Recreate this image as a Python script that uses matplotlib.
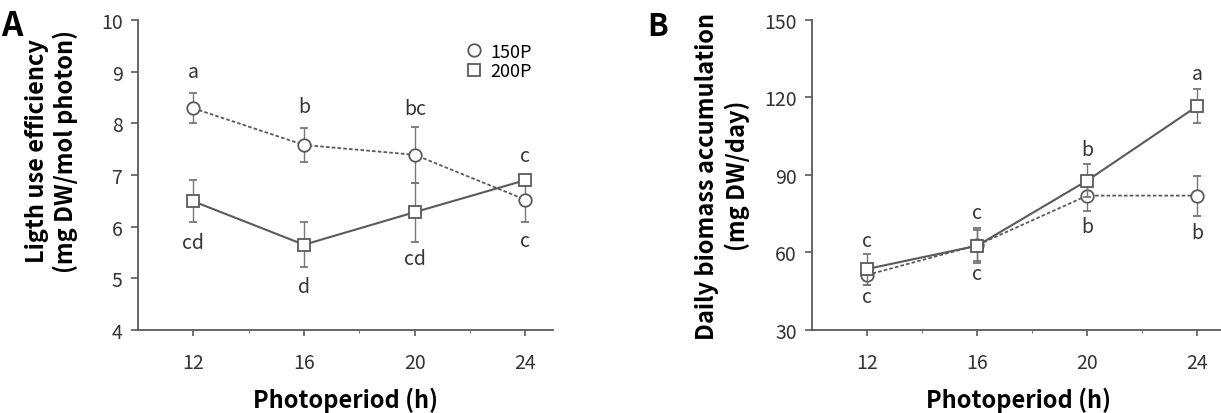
import matplotlib
matplotlib.use("Agg")
import matplotlib.pyplot as plt
from matplotlib.lines import Line2D

plt.rcParams["font.family"] = ["Noto Sans CJK KR", "DejaVu Sans"]

# datos
fotoperiodo = [12, 16, 20, 24]

# panel A: eficiencia de uso de luz
lue_150 = [8.29, 7.58, 7.39, 6.52]
lue_150_err = [0.29, 0.33, 0.54, 0.43]
lue_200 = [6.49, 5.65, 6.28, 6.90]
lue_200_err = [0.41, 0.43, 0.57, 0.10]
letras_a_150 = ["a", "b", "bc", "c"]
letras_a_200 = ["cd", "d", "cd", "c"]
pos_a_150 = [9.0, 8.32, 8.28, 7.37]
pos_a_200 = [5.69, 4.84, 5.38, 5.73]

# panel B: acumulacion diaria de biomasa
bio_150 = [51.3, 62.8, 82.0, 82.0]
bio_150_err = [4.0, 6.0, 6.0, 7.7]
bio_200 = [53.6, 62.6, 87.8, 116.6]
bio_200_err = [6.0, 6.8, 6.5, 6.6]
letras_b_arriba = ["c", "c", "b", "a"]
letras_b_abajo = ["c", "c", "b", "b"]
pos_b_arriba = [64.6, 75.3, 99.8, 129.1]
pos_b_abajo = [43.0, 51.7, 70.1, 67.8]

GRIS = "#5a5a5a"
TXT = "#333333"

fig = plt.figure(figsize=(12.21, 4.14), dpi=100)
axA = fig.add_axes([0.113, 0.2005, 0.340, 0.749])
axB = fig.add_axes([0.665, 0.2005, 0.338, 0.749])


def dibujar(ax, y150, e150, y200, e200):
    ax.errorbar(fotoperiodo, y150, yerr=e150, color=GRIS, ls=(0, (2, 1.2)), lw=1.3,
                marker="o", ms=9, mfc="white", mec=GRIS, mew=1.3,
                capsize=3, elinewidth=1.0, ecolor="#777777", zorder=3)
    ax.errorbar(fotoperiodo, y200, yerr=e200, color=GRIS, ls="-", lw=1.5,
                marker="s", ms=9, mfc="white", mec=GRIS, mew=1.3,
                capsize=3, elinewidth=1.0, ecolor="#777777", zorder=4)
    ax.set_xlim(10, 25)
    ax.set_xticks(fotoperiodo)
    ax.set_xticks([14, 18, 22], minor=True)
    for lado in ["top", "right"]:
        ax.spines[lado].set_visible(False)
    for lado in ["left", "bottom"]:
        ax.spines[lado].set_color(GRIS)
        ax.spines[lado].set_linewidth(1.3)
    ax.tick_params(axis="both", which="major", labelsize=14, colors=GRIS,
                   labelcolor=TXT, width=1.2)
    ax.tick_params(axis="y", length=5, pad=6)
    ax.tick_params(axis="x", length=4, pad=12)
    ax.tick_params(axis="x", which="minor", length=2, colors=GRIS)
    ax.set_xlabel("Photoperiod (h)", fontsize=17, fontweight="bold", labelpad=10)


def letras(ax, textos, posiciones):
    for x, t, y in zip(fotoperiodo, textos, posiciones):
        ax.text(x, y, t, ha="center", va="center", fontsize=14, color=TXT)


dibujar(axA, lue_150, lue_150_err, lue_200, lue_200_err)
axA.set_ylim(4, 10)
axA.set_yticks([4, 5, 6, 7, 8, 9, 10])
axA.set_ylabel("Ligth use efficiency\n(mg DW/mol photon)", fontsize=17,
               fontweight="bold", linespacing=1.15)
axA.yaxis.set_label_coords(-0.145, 0.58)
letras(axA, letras_a_150, pos_a_150)
letras(axA, letras_a_200, pos_a_200)

leyenda = [
    Line2D([], [], ls="none", marker="o", ms=9, mfc="white", mec=GRIS, mew=1.3, label="150P"),
    Line2D([], [], ls="none", marker="s", ms=9, mfc="white", mec=GRIS, mew=1.3, label="200P"),
]
axA.legend(handles=leyenda, loc="upper left", bbox_to_anchor=(0.77, 0.95), frameon=False,
           fontsize=13, handlelength=1.0, handletextpad=0.4, labelspacing=0.1,
           borderaxespad=0)

dibujar(axB, bio_150, bio_150_err, bio_200, bio_200_err)
axB.set_ylim(30, 150)
axB.set_yticks([30, 60, 90, 120, 150])
axB.set_ylabel("Daily biomass accumulation\n(mg DW/day)", fontsize=17,
               fontweight="bold", linespacing=1.3)
axB.yaxis.set_label_coords(-0.15, 0.5)
letras(axB, letras_b_arriba, pos_b_arriba)
letras(axB, letras_b_abajo, pos_b_abajo)

fig.text(0.001, 1 - 26 / 414, "A", fontsize=24, fontweight="bold", ha="left", va="center")
fig.text(658 / 1221, 1 - 27 / 414, "B", fontsize=22, fontweight="bold", ha="center", va="center")

fig.savefig("out.png", dpi=100, facecolor="white")
